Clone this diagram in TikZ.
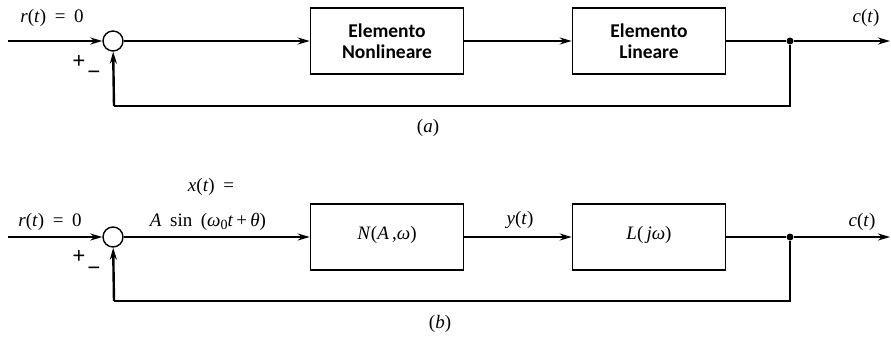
\documentclass[tikz,border=0pt]{standalone}
\usepackage{fontspec}
\setmainfont{Liberation Serif}
\newfontfamily\boxfont{Carlito}
\usetikzlibrary{arrows.meta}
\newcommand\vi[1]{\textit{#1}}
\newcommand\eqsp{\hspace{0.45em}}
\newcommand\subz{\raisebox{-0.35ex}{\fontsize{14}{14}\selectfont 0}}
\tikzset{
  sig/.style={line width=2.4pt},
  arr/.style={sig,-{Stealth[length=12pt,width=7pt]}},
  sumc/.style={circle,draw,line width=1.4pt,minimum size=20pt,inner sep=0pt,fill=white},
  blk/.style={draw,line width=1.6pt,minimum width=153pt,minimum height=66pt,inner sep=0pt,align=center},
  ttl/.style={font=\boxfont\bfseries\fontsize{19.5}{21}\selectfont,align=center},
  lbl/.style={font=\fontsize{19}{21}\selectfont,inner sep=0pt},
  sgn/.style={font=\bfseries\fontsize{23}{23}\selectfont,inner sep=0pt},
  dot/.style={circle,fill,minimum size=7pt,inner sep=0pt}
}
\begin{document}
\begin{tikzpicture}[x=1pt,y=-1pt]
\useasboundingbox (0,0) rectangle (891,348);

% ---- loop (a): descriptive blocks
\coordinate (ina) at (8,41);
\node[sumc] (sa) at (113,41) {};
\node[blk,ttl] (nla) at (387,41) {Elemento\\Nonlineare};
\node[blk,ttl] (lia) at (649,41) {Elemento\\Lineare};
\node[dot] (ba) at (790,41) {};
\coordinate (outa) at (890,41);
\coordinate (fba) at (790,106);
\coordinate (fsa) at (114,106);

\draw[arr] (ina) -- (sa);
\draw[arr] (sa) -- (nla);
\draw[arr] (nla) -- (lia);
\draw[sig] (lia) -- (ba);
\draw[arr] (ba) -- (outa);
\draw[sig] (ba) -- (fba) -- (fsa);
\draw[arr] (fsa) -- (sa);

\node[lbl] (ra) at (52,18) {\vi{r}(\vi{t})\eqsp=\eqsp0};
\node[lbl] (ca) at (866,18) {\vi{c}(\vi{t})};
\node[sgn] (pa) at (79,62) {+};
\node[sgn] (ma) at (94,75) {−};
\node[lbl] (capa) at (428,128) {(\vi{a})};

% ---- loop (b): describing-function form
\coordinate (inb) at (8,237);
\node[sumc] (sb) at (113,237) {};
\node[blk] (nb) at (387,237) {};
\node[lbl] (nbt) at (387,235) {\vi{N}(\vi{A}\,,\vi{ω})};
\node[blk] (lb) at (649,237) {};
\node[lbl] (lbt) at (649,235) {\vi{L}(\,\vi{jω})};
\node[dot] (bb) at (790,237) {};
\coordinate (outb) at (890,237);
\coordinate (fbb) at (790,301);
\coordinate (fsb) at (114,301);

\draw[arr] (inb) -- (sb);
\draw[arr] (sb) -- (nb);
\draw[arr] (nb) -- (lb);
\draw[sig] (lb) -- (bb);
\draw[arr] (bb) -- (outb);
\draw[sig] (bb) -- (fbb) -- (fsb);
\draw[arr] (fsb) -- (sb);

\node[lbl] (rb) at (50,222) {\vi{r}(\vi{t})\eqsp=\eqsp0};
\node[lbl] (xb) at (211,187) {\vi{x}(\vi{t})\eqsp=};
\node[lbl] (ab) at (208,222) {\vi{A}\eqsp sin\eqsp(\vi{ω}\subz\vi{t}\,+\,\vi{θ})};
\node[lbl] (yb) at (520,220) {\vi{y}(\vi{t})};
\node[lbl] (cb) at (862,222) {\vi{c}(\vi{t})};
\node[sgn] (pb) at (79,257) {+};
\node[sgn] (mb) at (94,271) {−};
\node[lbl] (capb) at (440,324) {(\vi{b})};
\end{tikzpicture}
\end{document}
